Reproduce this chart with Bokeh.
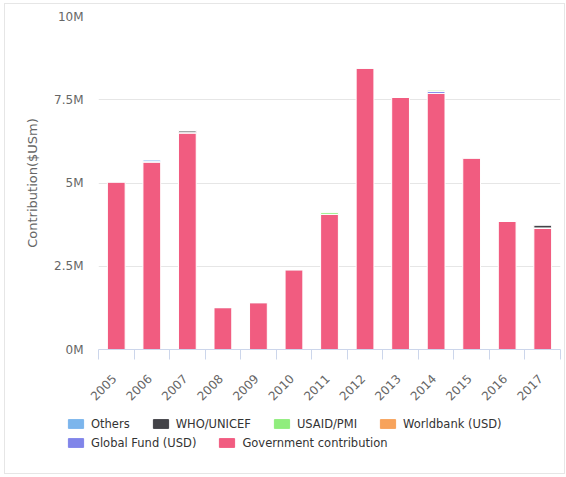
import math
from bokeh.plotting import figure
from bokeh.layouts import column, row
from bokeh.models import (ColumnDataSource, Range1d, FixedTicker, Legend, LegendItem)
from bokeh.embed import file_html
from bokeh.resources import INLINE

years = ["2005", "2006", "2007", "2008", "2009", "2010", "2011",
         "2012", "2013", "2014", "2015", "2016", "2017"]
government = [5.04e6, 5.64e6, 6.51e6, 1.26e6, 1.41e6, 2.40e6, 4.06e6,
              8.46e6, 7.58e6, 7.69e6, 5.76e6, 3.85e6, 3.65e6]
global_fund = [0, 0, 0, 0, 0, 0, 0, 0, 0, 0.06e6, 0, 0, 0]
worldbank = [0, 0, 0, 0, 0, 0, 0, 0, 0, 0, 0, 0, 0]
usaid = [0, 0, 0, 0, 0, 0, 0.07e6, 0, 0, 0.05e6, 0, 0, 0]
who_unicef = [0, 0, 0.06e6, 0, 0, 0, 0, 0, 0, 0, 0, 0, 0.09e6]
others = [0, 0.05e6, 0, 0, 0, 0, 0, 0, 0, 0, 0, 0, 0]

y_ticks = [0, 2.5e6, 5e6, 7.5e6, 10e6]
y_tick_labels = ["0M", "2.5M", "5M", "7.5M", "10M"]

series_names = ["Government contribution", "Global Fund (USD)", "Worldbank (USD)",
                "USAID/PMI", "WHO/UNICEF", "Others"]
series_keys = ["government", "global_fund", "worldbank", "usaid", "who_unicef", "others"]
series_colors = ["#f15c80", "#8085e9", "#f7a35c", "#90ed7d", "#434348", "#7cb5ec"]

x_pos = [i + 0.5 for i in range(len(years))]
source = ColumnDataSource(dict(x=x_pos, government=government, global_fund=global_fund,
                               worldbank=worldbank, usaid=usaid, who_unicef=who_unicef,
                               others=others))

FONT = "DejaVu Sans"

p = figure(width=559, height=406, output_backend="svg", toolbar_location=None,
           x_range=Range1d(0, len(years)), y_range=Range1d(0, 10e6),
           min_border_left=93, min_border_right=4, min_border_top=12,
           min_border_bottom=61)
p.outline_line_color = None

p.vbar_stack(series_keys, x="x", width=0.5, source=source,
             color=series_colors, line_color="white", line_width=1)

# x axis: labels end at the category centre, ticks at category edges
label_shift = 0.06
label_pos = [x - label_shift for x in x_pos]
p.xgrid.visible = False
xa = p.xaxis[0]
xa.ticker = FixedTicker(ticks=label_pos, minor_ticks=list(range(len(years) + 1)))
xa.major_label_overrides = {x: y for x, y in zip(label_pos, years)}
xa.major_label_orientation = math.pi / 4
xa.major_tick_out = 0
xa.major_tick_in = 0
xa.minor_tick_out = 10
xa.minor_tick_in = 0
xa.minor_tick_line_color = "#ccd6eb"
xa.axis_line_color = "#ccd6eb"
xa.major_label_standoff = 17
xa.major_label_text_font = FONT
xa.major_label_text_font_size = "12px"
xa.major_label_text_color = "#666666"

# y axis
ya = p.yaxis[0]
ya.ticker = FixedTicker(ticks=y_ticks, minor_ticks=[])
ya.major_label_overrides = {t: l for t, l in zip(y_ticks, y_tick_labels)}
ya.axis_line_color = None
ya.major_tick_line_color = None
ya.minor_tick_line_color = None
ya.major_label_standoff = 9
ya.major_label_text_font = FONT
ya.major_label_text_font_size = "12px"
ya.major_label_text_color = "#666666"
ya.axis_label = "Contribution($USm)"
ya.axis_label_text_font = FONT
ya.axis_label_text_font_size = "13px"
ya.axis_label_text_font_style = "normal"
ya.axis_label_text_color = "#666666"
ya.axis_label_standoff = 11
p.ygrid.grid_line_color = "#e6e6e6"
p.ygrid.ticker = FixedTicker(ticks=y_ticks)

# legend panel (separate figure so the legend is not clipped)
lf = figure(width=559, height=63, output_backend="svg", toolbar_location=None,
            x_range=Range1d(0, 1), y_range=Range1d(0, 1),
            x_axis_location=None, y_axis_location=None,
            min_border_left=0, min_border_right=0, min_border_top=0, min_border_bottom=0)
lf.outline_line_color = None
lf.xgrid.visible = False
lf.ygrid.visible = False
by_name = {}
for name, col in zip(series_names, series_colors):
    # swatch-only renderer placed far outside the visible range
    by_name[name] = lf.vbar(x=[-50], top=[-50], bottom=[-51], width=0.5, color=col)

row1 = ["Others", "WHO/UNICEF", "USAID/PMI", "Worldbank (USD)"]
row2 = ["Global Fund (USD)", "Government contribution"]


def make_legend(names, loc):
    lg = Legend(items=[LegendItem(label=n, renderers=[by_name[n]]) for n in names],
                location=loc, orientation="horizontal")
    lg.padding = 0
    lg.margin = 0
    lg.spacing = 21
    lg.label_standoff = 6
    lg.glyph_width = 19
    lg.glyph_height = 11
    lg.label_height = 15
    lg.label_text_font = FONT
    lg.label_text_font_size = "11.5px"
    lg.label_text_color = "#333333"
    lg.border_line_color = None
    lg.background_fill_alpha = 0
    return lg


lf.add_layout(make_legend(row1, (61, 42)), "center")
lf.add_layout(make_legend(row2, (61, 23)), "center")

layout = column(p, row(lf), spacing=0,
                styles={"border": "1px solid #e6e6e6", "margin-left": "4px",
                        "margin-top": "3px"})

open("out.html", "w").write(file_html(layout, INLINE))
